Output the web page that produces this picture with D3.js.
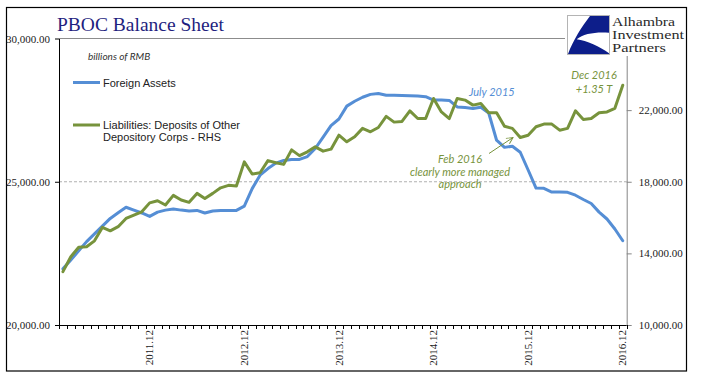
<!DOCTYPE html>
<html>
<head>
<meta charset="utf-8">
<script src="https://cdn.jsdelivr.net/npm/d3@7"></script>
<style>
    body { margin: 0; background: #fff; }
    svg { display: block; }
    .num { font-family: "Liberation Serif", "Times New Roman", serif; font-size: 11px; fill: #1a1a1a; }
    .note { font-family: Lato, "Open Sans", sans-serif; font-style: italic; font-size: 11px; }
</style>
</head>
<body>
<svg id="chart" width="705" height="381"></svg>
<script>

// monthly categories, Jan 2011 .. Dec 2016
var years = [2011, 2012, 2013, 2014, 2015, 2016];
var months = [];
years.forEach(function(y) {
    for (var m = 1; m <= 12; m++) {
        months.push(y + "." + (m < 10 ? "0" + m : m));
    }
});

var tickLabels = ["2011.12", "2012.12", "2013.12", "2014.12", "2015.12", "2016.12"];
var leftTicks = [20000, 25000, 30000];
var rightTicks = [10000, 14000, 18000, 22000];

// Foreign Assets (left axis, billions of RMB)
var foreignAssets = [
    21960, 22270, 22590, 22910, 23180, 23450, 23720, 23920, 24110, 24010,
    23910, 23790, 23940, 24010, 24050, 24010, 23980, 24000, 23910, 23980,
    24000, 24000, 24000, 24150, 24760, 25230, 25460, 25650, 25740, 25780,
    25780, 25880, 26160, 26560, 26960, 27190, 27640, 27810, 27950, 28050,
    28080, 28020, 28020, 28010, 28000, 27990, 27970, 27850, 27850, 27840,
    27610, 27590, 27560, 27600, 27400, 26450, 26200, 26240, 26030, 25410,
    24780, 24770, 24640, 24640, 24630, 24530, 24380, 24240, 23940, 23700,
    23350, 22940
];

// Liabilities: Deposits of Other Depository Corps (right axis)
var deposits = [
    12980, 13810, 14340, 14370, 14700, 15450, 15260, 15490, 15950, 16140,
    16320, 16820, 16940, 16700, 17240, 16980, 16850, 17350, 17070, 17350,
    17660, 17800, 17760, 19110, 18430, 18500, 19180, 19060, 18970, 19780,
    19460, 19670, 19950, 19710, 19820, 20600, 20230, 20510, 20980, 20790,
    21030, 21650, 21330, 21370, 21960, 21530, 21530, 22650, 21900, 21530,
    22650, 22560, 22280, 22370, 21850, 21850, 21100, 20980, 20470, 20600,
    21070, 21220, 21220, 20880, 20980, 21960, 21480, 21530, 21850, 21900,
    22100, 23390
];

var BLUE = "#558ed5", GREEN = "#77933c";

/**
 * Draws the whole chart into #chart
 */
function drawChart()
{
    var svg = d3.select("#chart");
    var left = 59, right = 626.7, top = 38.5, bottom = 325;

    var x = d3.scaleBand().domain(months).range([left, right]);
    var yL = d3.scaleLinear().domain([20000, 30000]).range([bottom, top]);
    var yR = d3.scaleLinear().domain([10000, 26000]).range([bottom, top]);
    var fmt = d3.format(",.2f");
    var cx = function(i) { return x(months[i]) + x.bandwidth() / 2; };

    // outer frame
    svg.append("rect")
            .attr("x", 6.5).attr("y", 7.5).attr("width", 680).attr("height", 363.5)
            .style("fill", "none").style("stroke", "#000").style("stroke-width", "1.2px");

    // top edge + dashed gridline
    svg.append("line")
            .attr("x1", left).attr("x2", right).attr("y1", yL(30000)).attr("y2", yL(30000))
            .style("stroke", "#8c8c8c").style("stroke-width", "1px");
    svg.append("line")
            .attr("x1", left).attr("x2", right).attr("y1", yL(25000)).attr("y2", yL(25000))
            .style("stroke", "#b0b0b0").style("stroke-width", "1px").style("stroke-dasharray", "3,2");

    // left axis
    var gl = svg.append("g").attr("transform", "translate(" + left + ",0)")
            .call(d3.axisLeft(yL).tickValues(leftTicks).tickFormat(fmt).tickSize(4).tickSizeOuter(0).tickPadding(5));
    gl.selectAll("path, line").style("stroke", "#000");
    gl.selectAll("text").attr("class", "num");
    gl.attr("font-family", null).attr("font-size", null);

    // right axis
    var gr = svg.append("g").attr("transform", "translate(" + right + ",0)")
            .call(d3.axisRight(yR).tickValues(rightTicks).tickFormat(fmt).tickSize(5).tickSizeOuter(0).tickPadding(7));
    gr.selectAll("path, line").style("stroke", "#868686");
    gr.selectAll("text").attr("class", "num");
    gr.attr("font-family", null).attr("font-size", null);

    // bottom axis: monthly tick marks between categories
    svg.append("line")
            .attr("x1", left).attr("x2", right).attr("y1", bottom + 0.5).attr("y2", bottom + 0.5)
            .style("stroke", "#000");
    var edges = months.map(function(m) { return x(m); }).concat([right]);
    svg.append("g").selectAll("line").data(edges).enter().append("line")
            .attr("x1", function(d) { return Math.round(d) + 0.5; })
            .attr("x2", function(d) { return Math.round(d) + 0.5; })
            .attr("y1", bottom).attr("y2", bottom + 4)
            .style("stroke", "#000");
    svg.append("g").selectAll("text").data(tickLabels).enter().append("text")
            .attr("class", "num")
            .attr("text-anchor", "end")
            .attr("dy", "0.33em")
            .attr("transform", function(d) {
                return "translate(" + (x(d) + x.bandwidth() / 2) + "," + (bottom + 5) + ") rotate(-90)";
            })
            .text(function(d) { return d; });

    // series lines
    var lineL = d3.line().x(function(d, i) { return cx(i); }).y(function(d) { return yL(d); });
    var lineR = d3.line().x(function(d, i) { return cx(i); }).y(function(d) { return yR(d); });

    svg.append("path").datum(foreignAssets)
            .style("fill", "none").style("stroke", BLUE).style("stroke-width", "3px")
            .style("stroke-linejoin", "round").style("stroke-linecap", "round")
            .attr("d", lineL);
    svg.append("path").datum(deposits)
            .style("fill", "none").style("stroke", GREEN).style("stroke-width", "3px")
            .style("stroke-linejoin", "round").style("stroke-linecap", "round")
            .attr("d", lineR);

    // title
    svg.append("text")
            .attr("x", 57).attr("y", 30.5)
            .style("font-family", "'Liberation Serif', serif").style("font-size", "19.5px")
            .style("fill", "#1f1f80")
            .text("PBOC Balance Sheet");

    // units + legend
    svg.append("text").attr("class", "note")
            .attr("x", 88).attr("y", 60).style("font-size", "10px").style("fill", "#333")
            .text("billions of RMB");

    var legend = [
        {color: BLUE, y: 82.5, lines: ["Foreign Assets"]},
        {color: GREEN, y: 125, lines: ["Liabilities: Deposits of Other", "Depository Corps - RHS"]}
    ];
    legend.forEach(function(l) {
        svg.append("line")
                .attr("x1", 73).attr("x2", 100).attr("y1", l.y).attr("y2", l.y)
                .style("stroke", l.color).style("stroke-width", "3px");
        var t = svg.append("text")
                .attr("x", 103).attr("y", l.y + 4)
                .style("font-family", "'Liberation Sans', Arial, sans-serif").style("font-size", "11px")
                .style("fill", "#222");
        l.lines.forEach(function(s, k) {
            t.append("tspan").attr("x", 103).attr("dy", k ? 12 : 0).text(s);
        });
    });

    // annotations
    svg.append("text").attr("class", "note")
            .attr("x", 469).attr("y", 96).style("fill", BLUE)
            .text("July 2015");

    var feb = svg.append("text").attr("class", "note")
            .attr("x", 460).attr("y", 163).attr("text-anchor", "middle")
            .style("fill", GREEN);
    ["Feb 2016", "clearly more managed", "approach"].forEach(function(s, k) {
        feb.append("tspan").attr("x", 460).attr("dy", k ? 12.5 : 0).text(s);
    });

    svg.append("defs").append("marker")
            .attr("id", "arrow").attr("viewBox", "0 0 10 10")
            .attr("refX", 9).attr("refY", 5)
            .attr("markerWidth", 8).attr("markerHeight", 8)
            .attr("orient", "auto")
            .append("path")
            .attr("d", "M1,1L9,5L1,9")
            .style("fill", "none").style("stroke", GREEN).style("stroke-width", "1.2px");
    svg.append("line")
            .attr("x1", 489).attr("y1", 153.5).attr("x2", 513).attr("y2", 137.5)
            .style("stroke", GREEN).style("stroke-width", "1px")
            .attr("marker-end", "url(#arrow)");

    var dec = svg.append("text").attr("class", "note")
            .attr("x", 594).attr("y", 79).attr("text-anchor", "middle")
            .style("fill", GREEN);
    ["Dec 2016", "+1.35 T"].forEach(function(s, k) {
        dec.append("tspan").attr("x", 594).attr("dy", k ? 14 : 0).text(s);
    });

    // logo block
    svg.append("rect")
            .attr("x", 565).attr("y", 9).attr("width", 120).attr("height", 47)
            .style("fill", "#fff");
    svg.append("rect")
            .attr("x", 567.5).attr("y", 15.5).attr("width", 42).attr("height", 39)
            .style("fill", "#fff").style("stroke", "#b4b4b4").style("stroke-width", "1px");
    svg.append("path")
            .style("fill", "#0d1e8a")
            .attr("d", "M590,16L609,16L609,32.7" +
                    "C596.7,31.7,583.3,33.3,576.7,39.3C586.7,40.7,600,46.7,609,53.3" +
                    "L609,54L568,54C573.3,40,581.7,26.7,590,16Z");
    // tight leading like the original logo, glyphs stretched to its width
    var logoWords = ["Alhambra", "Investment", "Partners"];
    var logoWidths = [63, 72, 54];
    logoWords.forEach(function(s, k) {
        svg.append("text")
                .attr("x", 612).attr("y", 26 + k * 13.2)
                .attr("textLength", logoWidths[k]).attr("lengthAdjust", "spacingAndGlyphs")
                .style("font-family", "'Liberation Serif', serif").style("font-size", "11.8px")
                .style("fill", "#2a2a2a")
                .text(s);
    });
}

drawChart();

</script>
</body>
</html>
